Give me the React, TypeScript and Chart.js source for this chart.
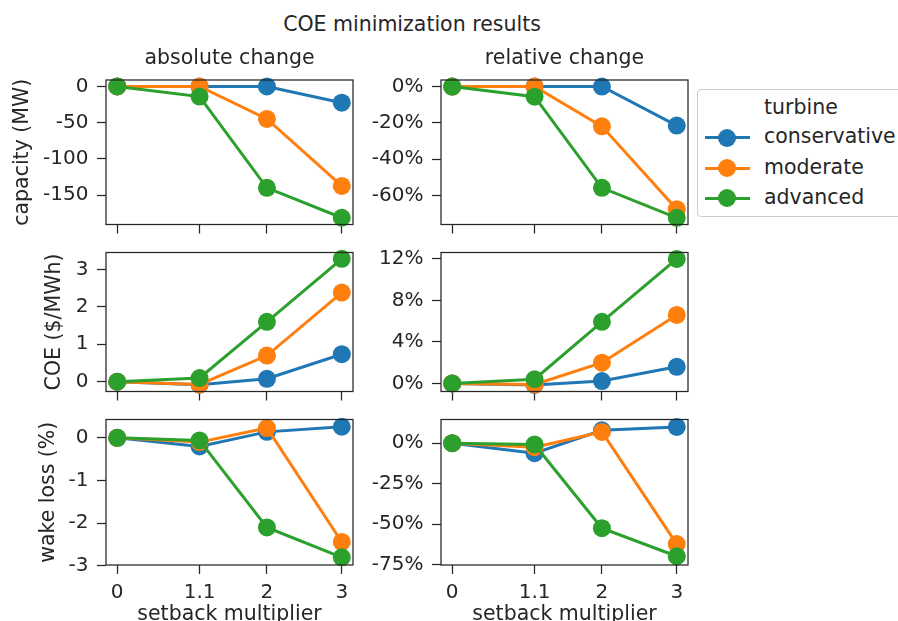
import { useEffect, useRef } from 'react';
import { Chart, registerables } from 'chart.js';

Chart.register(...registerables);

const FONT = "'DejaVu Sans', sans-serif";
const TEXT = '#262626';

// ---- data ----
const setbackMultipliers = [0, 1.1, 2, 3];
const setbackTickLabels = ['0', '1.1', '2', '3'];
const turbineNames = ['conservative', 'moderate', 'advanced'];
const turbineColors = ['#1f77b4', '#ff7f0e', '#2ca02c'];

const capacityAbsConservative = [0, 0, 0, -22.4];
const capacityAbsModerate = [0, 0, -44.8, -137.2];
const capacityAbsAdvanced = [0, -14, -139.8, -181];
const capacityRelConservative = [0, 0, 0, -21.5];
const capacityRelModerate = [0, 0, -21.9, -67.5];
const capacityRelAdvanced = [0, -5.6, -55.7, -72.2];

const coeAbsConservative = [0, -0.08, 0.08, 0.735];
const coeAbsModerate = [0, -0.07, 0.7, 2.38];
const coeAbsAdvanced = [0, 0.1, 1.6, 3.28];
const coeRelConservative = [0, -0.15, 0.23, 1.6];
const coeRelModerate = [0, -0.1, 2.0, 6.6];
const coeRelAdvanced = [0, 0.4, 5.94, 12.0];

const wakeAbsConservative = [0, -0.2, 0.14, 0.26];
const wakeAbsModerate = [0, -0.1, 0.23, -2.44];
const wakeAbsAdvanced = [0, -0.06, -2.1, -2.8];
const wakeRelConservative = [0, -6.2, 7.9, 10.0];
const wakeRelModerate = [0, -2.5, 6.9, -62.3];
const wakeRelAdvanced = [0, -0.8, -52.5, -69.8];

const capacityAbsTicks = [0, -50, -100, -150];
const capacityRelTicks = [0, -20, -40, -60];
const coeAbsTicks = [0, 1, 2, 3];
const coeRelTicks = [0, 4, 8, 12];
const wakeAbsTicks = [0, -1, -2, -3];
const wakeRelTicks = [0, -25, -50, -75];

const rowLabels = ['capacity (MW)', 'COE ($/MWh)', 'wake loss (%)'];
const columnTitles = ['absolute change', 'relative change'];
const figureTitle = 'COE minimization results';
const xAxisLabel = 'setback multiplier';
const legendTitle = 'turbine';

// ---- layout ----
const colPlotLeft = [106, 441];
const colPlotRight = [354, 689];
const colCanvasLeft = [0, 360];
const rowPlotTop = [80, 246, 413];
const rowPlotBottom = [231, 398, 565];
const yLabelPad = [9.9, 42, 36];

type PanelCfg = {
  row: number;
  col: number;
  series: number[][];
  yMin: number;
  yMax: number;
  yTicks: number[];
  suffix: string;
};

const panels: PanelCfg[] = [
  { row: 0, col: 0, series: [capacityAbsConservative, capacityAbsModerate, capacityAbsAdvanced], yMin: -190.3, yMax: 8.9, yTicks: capacityAbsTicks, suffix: '' },
  { row: 0, col: 1, series: [capacityRelConservative, capacityRelModerate, capacityRelAdvanced], yMin: -75.9, yMax: 3.6, yTicks: capacityRelTicks, suffix: '%' },
  { row: 1, col: 0, series: [coeAbsConservative, coeAbsModerate, coeAbsAdvanced], yMin: -0.26, yMax: 3.45, yTicks: coeAbsTicks, suffix: '' },
  { row: 1, col: 1, series: [coeRelConservative, coeRelModerate, coeRelAdvanced], yMin: -0.78, yMax: 12.62, yTicks: coeRelTicks, suffix: '%' },
  { row: 2, col: 0, series: [wakeAbsConservative, wakeAbsModerate, wakeAbsAdvanced], yMin: -2.98, yMax: 0.43, yTicks: wakeAbsTicks, suffix: '' },
  { row: 2, col: 1, series: [wakeRelConservative, wakeRelModerate, wakeRelAdvanced], yMin: -75.2, yMax: 14.6, yTicks: wakeRelTicks, suffix: '%' },
];

const framePlugin = {
  id: 'frame',
  afterDatasetsDraw(chart: any) {
    const { ctx, chartArea: a } = chart;
    ctx.save();
    ctx.strokeStyle = TEXT;
    ctx.lineWidth = 1.25;
    ctx.strokeRect(a.left, a.top, a.right - a.left, a.bottom - a.top);
    ctx.restore();
  },
};

function Panel({ cfg }: { cfg: PanelCfg }) {
  const ref = useRef<HTMLCanvasElement>(null);
  const { row, col } = cfg;
  const left = colCanvasLeft[col];
  const right = colPlotRight[col] + 8;
  const top = row === 0 ? 30 : rowPlotTop[row] - 14;
  const bottom = row === 2 ? 621 : rowPlotBottom[row] + 14;
  const w = right - left;
  const h = bottom - top;
  const yAxisWidth = colPlotLeft[col] - left;

  useEffect(() => {
    const tickFont = { family: FONT, size: 20, weight: 'normal' as const };
    const labelFont = { family: FONT, size: 20.5, weight: 'normal' as const };
    const grid = {
      drawOnChartArea: false,
      drawTicks: true,
      tickLength: 9,
      tickWidth: 1.25,
      tickColor: TEXT,
    };
    const chart = new Chart(ref.current as HTMLCanvasElement, {
      type: 'line',
      data: {
        datasets: cfg.series.map((vals, i) => ({
          label: turbineNames[i],
          data: setbackMultipliers.map((x, j) => ({ x, y: vals[j] })),
          borderColor: turbineColors[i],
          backgroundColor: turbineColors[i],
          pointBackgroundColor: turbineColors[i],
          pointBorderColor: turbineColors[i],
          borderWidth: 3,
          pointRadius: 9,
          pointHoverRadius: 9,
          pointBorderWidth: 0,
          tension: 0,
          clip: false as any,
          order: 3 - i,
        })),
      },
      options: {
        animation: false,
        responsive: false,
        events: [],
        layout: { padding: { left: 0, right: 8, top: row === 0 ? 0 : 14, bottom: 0 } },
        plugins: {
          legend: { display: false },
          tooltip: { enabled: false },
          title: {
            display: row === 0,
            text: columnTitles[col],
            fullSize: false,
            color: TEXT,
            font: labelFont,
            padding: { top: 16, bottom: 9.4 },
          },
        },
        scales: {
          x: {
            type: 'linear',
            min: -0.15,
            max: 3.15,
            afterBuildTicks: (s: any) => {
              s.ticks = setbackMultipliers.map((v) => ({ value: v }));
            },
            afterFit: (s: any) => {
              s.height = row === 2 ? 56 : 14;
            },
            ticks: {
              display: row === 2,
              autoSkip: false,
              maxRotation: 0,
              padding: 6.5,
              color: TEXT,
              font: tickFont,
              callback: (_v: any, i: number) => setbackTickLabels[i],
            },
            grid,
            border: { display: false },
            title: {
              display: row === 2,
              text: xAxisLabel,
              color: TEXT,
              font: labelFont,
              padding: { top: 0, bottom: -5.8 },
            },
          },
          y: {
            type: 'linear',
            min: cfg.yMin,
            max: cfg.yMax,
            afterBuildTicks: (s: any) => {
              s.ticks = cfg.yTicks.map((v) => ({ value: v }));
            },
            afterFit: (s: any) => {
              s.width = yAxisWidth;
            },
            ticks: {
              autoSkip: false,
              padding: 8.5,
              color: TEXT,
              font: tickFont,
              callback: (v: any) => `${v}${cfg.suffix}`,
            },
            grid,
            border: { display: false },
            title: {
              display: col === 0,
              text: rowLabels[row],
              color: TEXT,
              font: labelFont,
              padding: { top: yLabelPad[row], bottom: 0 },
            },
          },
        },
      } as any,
      plugins: [framePlugin],
    });
    return () => chart.destroy();
  }, []);

  return (
    <canvas
      ref={ref}
      width={w}
      height={h}
      style={{ position: 'absolute', left, top, width: w, height: h }}
    />
  );
}

const legendBaselines = [114, 143.5, 174, 204];

function Legend() {
  const fs = 20.5;
  const baseOffset = 17.35;
  const textStyle = (baseline: number) => ({
    position: 'absolute' as const,
    left: 764,
    top: baseline - baseOffset,
    fontSize: fs,
    lineHeight: `${fs}px`,
    whiteSpace: 'nowrap' as const,
    color: TEXT,
  });
  return (
    <>
      <div
        style={{
          position: 'absolute',
          left: 697,
          top: 89,
          width: 240,
          height: 128,
          border: '1px solid #cccccc',
          borderRadius: 4,
          background: 'rgba(255,255,255,0.8)',
          boxSizing: 'border-box',
        }}
      />
      <div style={textStyle(legendBaselines[0])}>{legendTitle}</div>
      {turbineNames.map((name, i) => {
        const b = legendBaselines[i + 1];
        const cy = b - 6;
        return (
          <div key={name}>
            <div
              style={{
                position: 'absolute',
                left: 705,
                top: cy - 1.5,
                width: 45,
                height: 3,
                background: turbineColors[i],
              }}
            />
            <div
              style={{
                position: 'absolute',
                left: 727 - 9,
                top: cy - 9,
                width: 18,
                height: 18,
                borderRadius: '50%',
                background: turbineColors[i],
              }}
            />
            <div style={textStyle(b)}>{name}</div>
          </div>
        );
      })}
    </>
  );
}

export default function App() {
  return (
    <div
      style={{
        position: 'absolute',
        left: 0,
        top: 0,
        width: 898,
        height: 621,
        overflow: 'hidden',
        background: '#ffffff',
        fontFamily: FONT,
        color: TEXT,
      }}
    >
      <div
        style={{
          position: 'absolute',
          left: 212,
          top: 12,
          width: 400,
          textAlign: 'center',
          fontSize: 20.5,
          lineHeight: '24.6px',
          whiteSpace: 'nowrap',
        }}
      >
        {figureTitle}
      </div>
      {panels.map((p) => (
        <Panel key={`${p.row}-${p.col}`} cfg={p} />
      ))}
      <Legend />
    </div>
  );
}
